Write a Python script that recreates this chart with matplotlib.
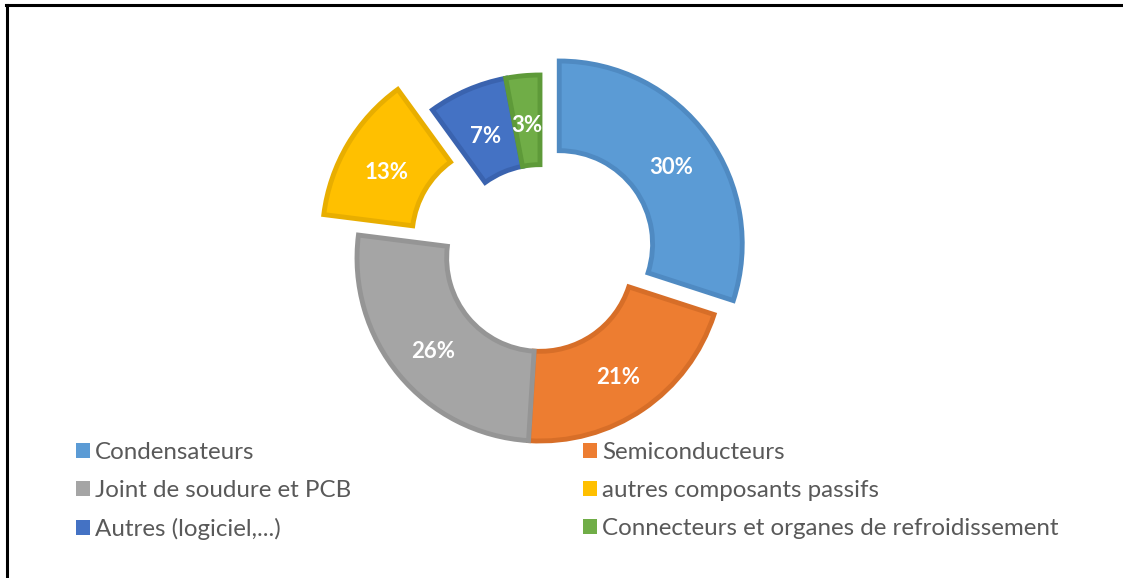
import matplotlib
matplotlib.use("Agg")
import matplotlib.pyplot as plt
import matplotlib.transforms as mtransforms
from matplotlib.lines import Line2D
from matplotlib.patches import Patch

categories = ["Condensateurs", "Semiconducteurs", "Joint de soudure et PCB",
              "autres composants passifs", "Autres (logiciel,...)",
              "Connecteurs et organes de refroidissement"]
values = [30, 21, 26, 13, 7, 3]
colors = ["#5B9BD5", "#ED7D31", "#A5A5A5", "#FFC000", "#4472C4", "#70AD47"]
edges = ["#4F8AC2", "#D76E28", "#959595", "#E8AE00", "#3A63AF", "#5E9A39"]
explode = [0.13, 0, 0, 0.22, 0, 0]

W, H = 1123, 578
fig = plt.figure(figsize=(W / 100, H / 100), dpi=100)
fig.patch.set_facecolor("white")

# Pie placement in pixels
cx, cy, R = 540, 258, 183
L = 260
ax = fig.add_axes([(cx - L) / W, (H - cy - L) / H, 2 * L / W, 2 * L / H])

wedges, texts, autotexts = ax.pie(
    values, colors=colors, explode=explode, startangle=90, counterclock=False,
    radius=1, autopct=lambda p: f"{p:.0f}%", pctdistance=0.755,
    wedgeprops=dict(width=0.49, linewidth=3.5, joinstyle="miter"),
    textprops=dict(color="white", fontsize=16, fontweight="bold", family="Lato"))
for w, e in zip(wedges, edges):
    w.set_edgecolor(e)
    w.set_clip_on(False)
shift = mtransforms.offset_copy(ax.transData, fig=fig, x=0, y=-3, units="dots")
for t in autotexts:
    t.set_va("center_baseline")
    t.set_transform(shift)
ax.set_xlim(-L / R, L / R)
ax.set_ylim(-L / R, L / R)
ax.set_aspect("equal")
ax.axis("off")

# Legend, two columns
order1 = [0, 2, 4]
order2 = [1, 3, 5]
common = dict(frameon=False, handlelength=0.58, handleheight=0.58, handletextpad=0.2,
              labelspacing=0.70, prop=dict(family="Lato", size=17.4), labelcolor="#595959",
              borderaxespad=0, borderpad=0)
h1 = [Patch(facecolor=colors[i], edgecolor="none") for i in order1]
h2 = [Patch(facecolor=colors[i], edgecolor="none") for i in order2]
leg1 = fig.legend(h1, [categories[i] for i in order1], loc="upper left",
                  bbox_to_anchor=(76 / W, 1 - 442 / H), **common)
leg2 = fig.legend(h2, [categories[i] for i in order2], loc="upper left",
                  bbox_to_anchor=(583 / W, 1 - 442 / H), **common)

# Frame lines (top and left)
fig.add_artist(Line2D([6 / W, 1], [1 - 5 / H, 1 - 5 / H], color="black", lw=2.2,
                      transform=fig.transFigure))
fig.add_artist(Line2D([7 / W, 7 / W], [0, 1 - 5 / H], color="black", lw=2.2,
                      transform=fig.transFigure))

fig.savefig("out.png", dpi=100)
